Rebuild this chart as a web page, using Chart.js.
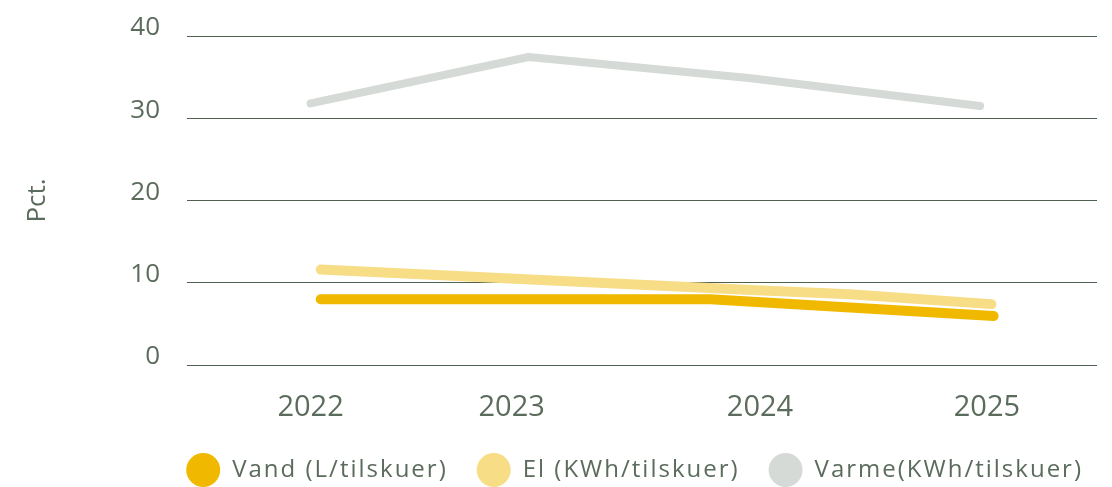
<!DOCTYPE html>
<html><head><meta charset="utf-8">
<script src="https://cdn.jsdelivr.net/npm/chart.js@4.4.1/dist/chart.umd.min.js"></script>
<style>html,body{margin:0;padding:0;background:#fff}</style>
</head><body>
<canvas id="c" width="1112" height="487"></canvas>
<script>
const seriesNames = ['Vand (L/tilskuer)', 'El (KWh/tilskuer)', 'Varme(KWh/tilskuer)'];
const vandYears = [2022.045, 2023.78, 2025.04];
const vandValues = [8.0, 8.0, 5.96];
const elYears = [2022.045, 2023.985, 2024.4, 2025.03];
const elValues = [11.6, 9.1, 8.6, 7.4];
const varmeYears = [2022.0, 2022.97, 2023.95, 2024.98];
const varmeValues = [31.8, 37.45, 34.9, 31.5];
const xTickLabels = ['2022', '2023', '2024', '2025'];
const xTickAt = [2022.0, 2022.895, 2024.0, 2025.01];
const yTickValues = [0, 10, 20, 30, 40];
const yTitle = 'Pct.';

const colVand = 'rgb(240,185,0)';
const colEl = 'rgb(247,221,133)';
const colVarme = 'rgb(213,218,214)';
const textCol = '#5b6b5c';
const gridCol = '#4f6251';
const FONT = "'Open Sans', sans-serif";
const LEGEND_SPACING = '2px';

// legend text is letter-spaced in the reference
const LegendEl = Chart.Legend._element;
['fit', 'draw'].forEach(fn => {
  const orig = LegendEl.prototype[fn];
  LegendEl.prototype[fn] = function () {
    const c = this.ctx;
    const prev = c.letterSpacing;
    c.letterSpacing = LEGEND_SPACING;
    const r = orig.apply(this, arguments);
    c.letterSpacing = prev || '0px';
    return r;
  };
});

const pts = (xs, ys) => xs.map((x, i) => ({x: x, y: ys[i]}));

new Chart(document.getElementById('c'), {
  type: 'line',
  data: {
    datasets: [
      {label: seriesNames[0], data: pts(vandYears, vandValues), borderColor: colVand, backgroundColor: colVand, pointBorderWidth: 0, borderWidth: 10, order: 1},
      {label: seriesNames[1], data: pts(elYears, elValues), borderColor: colEl, backgroundColor: colEl, pointBorderWidth: 0, borderWidth: 10, order: 0},
      {label: seriesNames[2], data: pts(varmeYears, varmeValues), borderColor: colVarme, backgroundColor: colVarme, pointBorderWidth: 0, borderWidth: 8, order: 2}
    ]
  },
  options: {
    responsive: false,
    devicePixelRatio: 1,
    animation: false,
    layout: {padding: {left: 0, right: 0, top: 36, bottom: -5}},
    elements: {
      line: {tension: 0, borderCapStyle: 'round', borderJoinStyle: 'round', fill: false},
      point: {radius: 0, hoverRadius: 0, borderWidth: 0, pointStyle: 'circle'}
    },
    plugins: {
      tooltip: {enabled: false},
      legend: {
        position: 'bottom',
        align: 'end',
        labels: {
          usePointStyle: true,
          pointStyle: 'circle',
          pointStyleWidth: 34,
          boxHeight: 24,
          padding: 29,
          color: textCol,
          font: {family: FONT, size: 24},
          sort: (a, b) => a.datasetIndex - b.datasetIndex
        }
      }
    },
    scales: {
      x: {
        type: 'linear',
        min: 2021.45,
        max: 2025.5,
        afterBuildTicks: s => { s.ticks = xTickAt.map(v => ({value: v})); },
        afterFit: s => { s.height = 64; s.paddingLeft = 0; s.paddingRight = 0; },
        ticks: {
          callback: (v, i) => xTickLabels[i],
          autoSkip: false, maxRotation: 0, padding: 17,
          color: textCol, font: {family: FONT, size: 29}
        },
        grid: {display: false},
        border: {display: false}
      },
      y: {
        min: 0, max: 40,
        afterBuildTicks: s => { s.ticks = yTickValues.map(v => ({value: v})); },
        afterFit: s => { s.width = 187; s.paddingTop = 0; s.paddingBottom = 0; },
        ticks: {padding: 27, labelOffset: -8, color: textCol, font: {family: FONT, size: 26}},
        grid: {color: gridCol, lineWidth: 1, drawTicks: false},
        border: {display: false},
        title: {display: true, text: yTitle, color: textCol, font: {family: FONT, size: 26}, padding: {top: 22, bottom: 0}}
      },
      yRight: {
        position: 'right',
        min: 0, max: 40,
        afterFit: s => { s.width = 15; s.paddingTop = 0; s.paddingBottom = 0; },
        ticks: {display: false},
        grid: {display: false, drawTicks: false},
        border: {display: false}
      }
    }
  }
});
</script>
</body></html>
